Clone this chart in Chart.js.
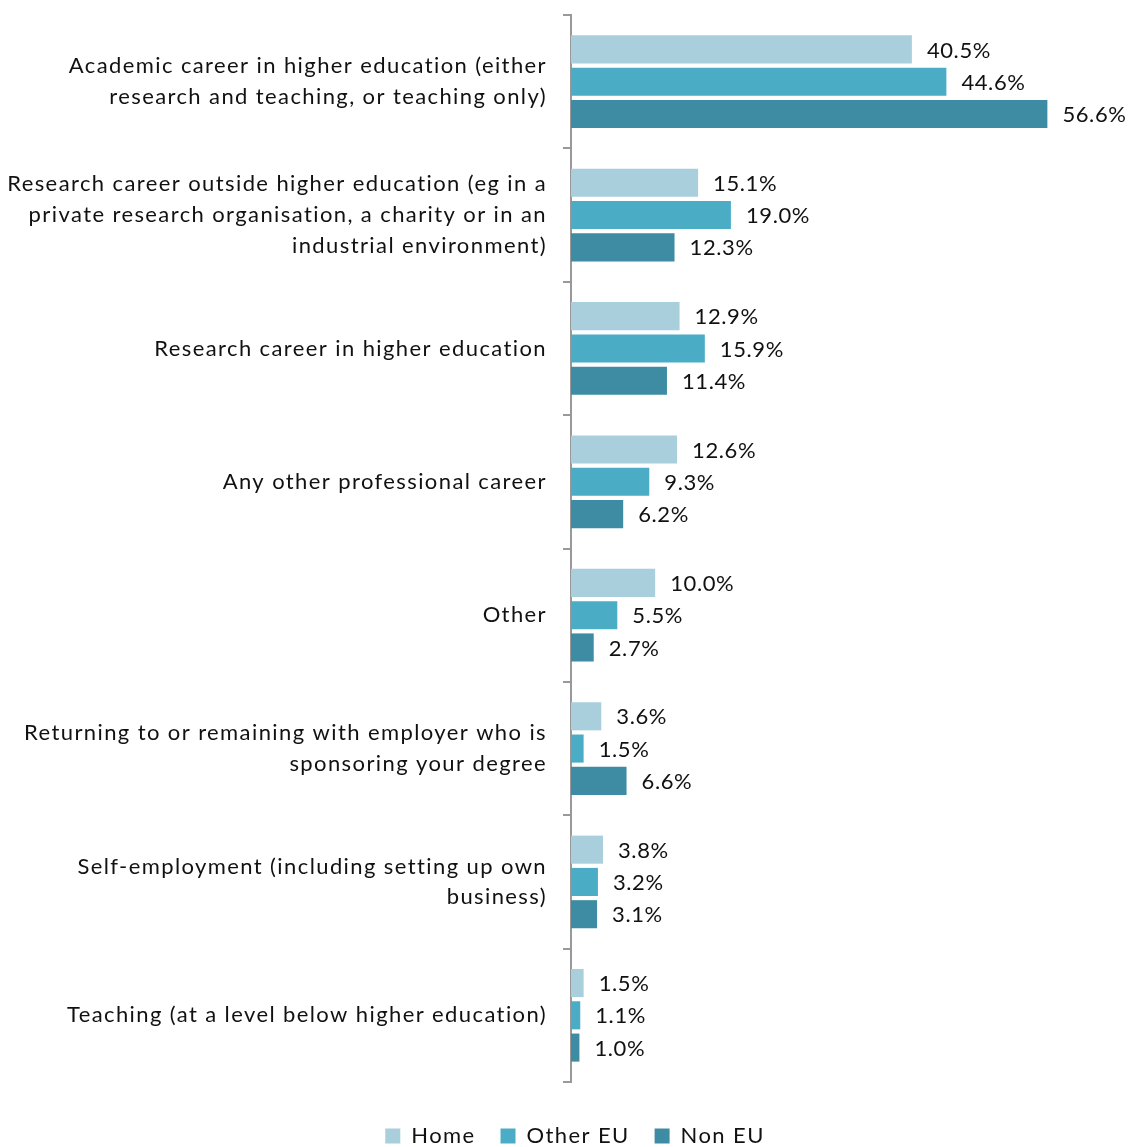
<!DOCTYPE html>
<html lang="en">
<head>
<meta charset="UTF-8">
<title>Career intentions by domicile</title>
<script src="https://cdn.jsdelivr.net/npm/chart.js@4.4.3/dist/chart.umd.min.js"></script>
<style>
  html, body { margin: 0; padding: 0; background: #fff; overflow: hidden; }
  #wrap { width: 1128px; height: 1157px; position: relative; }
</style>
</head>
<body>
<div id="wrap"><canvas id="chart"></canvas></div>
<script>
// Categories (multi-line labels as in the original)
const categories = [
  ['Academic career in higher education (either', 'research and teaching, or teaching only)'],
  ['Research career outside higher education (eg in a', 'private research organisation, a charity or in an', 'industrial environment)'],
  ['Research career in higher education'],
  ['Any other professional career'],
  ['Other'],
  ['Returning to or remaining with employer who is', 'sponsoring your degree'],
  ['Self-employment (including setting up own', 'business)'],
  ['Teaching (at a level below higher education)']
];

const seriesNames = ['Home', 'Other EU', 'Non EU'];
const home    = [40.5, 15.1, 12.9, 12.6, 10.0, 3.6, 3.8, 1.5];
const otherEU = [44.6, 19.0, 15.9, 9.3, 5.5, 1.5, 3.2, 1.1];
const nonEU   = [56.6, 12.3, 11.4, 6.2, 2.7, 6.6, 3.1, 1.0];

const colours = ['#a9cfdd', '#4bacc6', '#3d8ca3'];
const FONT = 'Lato, "Open Sans", sans-serif';
const SPACING = '1.4px';

// the original font is wider, so spread the letters a bit
const spacing = {
  id: 'spacing',
  beforeUpdate(chart) { chart.ctx.letterSpacing = SPACING; },
  beforeDraw(chart) { chart.ctx.letterSpacing = SPACING; },
  // legend sits a little right of centre in the original
  afterLayout(chart) {
    if (chart.legend) {
      chart.legend.left += 37;
      chart.legend.right += 37;
    }
  }
};

// percentage labels at the end of each bar
const barLabels = {
  id: 'barLabels',
  afterDatasetsDraw(chart) {
    const ctx = chart.ctx;
    ctx.save();
    ctx.letterSpacing = '0.6px';
    ctx.font = '22px ' + FONT;
    ctx.fillStyle = '#111';
    ctx.textAlign = 'left';
    ctx.textBaseline = 'middle';
    chart.data.datasets.forEach((ds, i) => {
      const meta = chart.getDatasetMeta(i);
      meta.data.forEach((bar, j) => {
        ctx.fillText(ds.data[j].toFixed(1) + '%', bar.x + 15, bar.y + 1);
      });
    });
    ctx.restore();
  }
};

const data = [home, otherEU, nonEU];

new Chart(document.getElementById('chart'), {
  type: 'bar',
  data: {
    labels: categories,
    datasets: seriesNames.map((name, i) => ({
      label: name,
      data: data[i],
      backgroundColor: colours[i],
      borderWidth: 0,
      categoryPercentage: 0.726,
      barPercentage: 0.87
    }))
  },
  options: {
    indexAxis: 'y',
    responsive: true,
    maintainAspectRatio: false,
    animation: false,
    layout: { padding: { top: 15, right: 52, bottom: 0, left: 0 } },
    scales: {
      x: {
        display: true,
        min: 0,
        max: 60,
        afterFit(axis) { axis.height = 18; },
        ticks: { display: false },
        grid: { display: false },
        border: { display: false }
      },
      y: {
        afterFit(axis) {
          axis.width = 571;
          axis.paddingTop = 0;
          axis.paddingBottom = 0;
        },
        grid: {
          drawOnChartArea: false,
          drawTicks: true,
          tickLength: 8,
          color: '#999',
          lineWidth: 2
        },
        border: { display: true, color: '#999', width: 2 },
        ticks: {
          padding: 16,
          color: '#111',
          font: { family: FONT, size: 22, lineHeight: 1.4 }
        }
      }
    },
    plugins: {
      legend: {
        position: 'bottom',
        labels: {
          boxWidth: 15,
          boxHeight: 15,
          padding: 25,
          color: '#111',
          font: { family: FONT, size: 22 }
        }
      },
      tooltip: { enabled: false }
    }
  },
  plugins: [spacing, barLabels]
});
</script>
</body>
</html>
